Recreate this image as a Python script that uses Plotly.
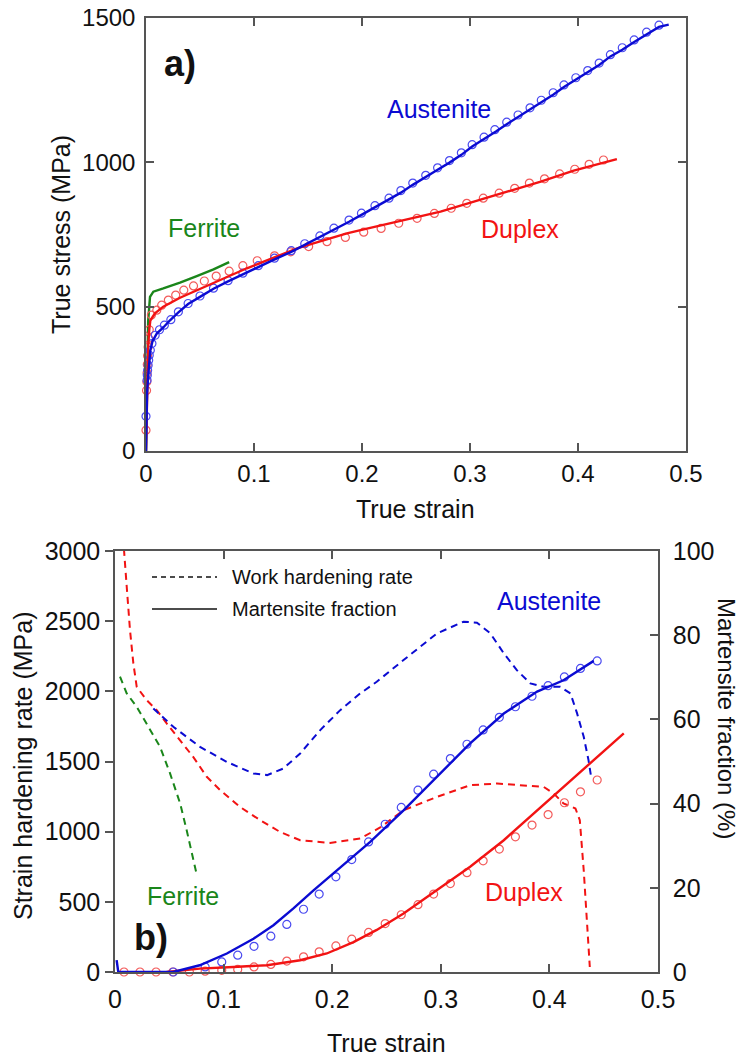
import plotly.graph_objects as go

W, H = 743, 1061
FONT = "Arial, Liberation Sans, Helvetica, sans-serif"
BLUE = "#0b0bd2"
RED = "#f21313"
GREEN = "#1a861a"
AXC = "#555555"

# ---------------- panel a) true stress - true strain ----------------
aus_line_x = [0, 0.0005, 0.001, 0.002, 0.003, 0.004, 0.006, 0.010, 0.016, 0.022, 0.030, 0.039, 0.050,
              0.0625, 0.075, 0.090, 0.104, 0.119, 0.1345, 0.147, 0.161, 0.174, 0.188, 0.1995, 0.212,
              0.225, 0.236, 0.247, 0.259, 0.270, 0.281, 0.292, 0.302, 0.313, 0.324, 0.334, 0.3445,
              0.3556, 0.366, 0.377, 0.387, 0.398, 0.409, 0.4196, 0.430, 0.441, 0.452, 0.4635, 0.475, 0.484]
aus_line_y = [0, 120, 200, 260, 300, 349, 380, 407, 428, 452, 480, 509, 534, 562, 586, 613, 638, 664,
              690, 714, 740, 766, 794, 818, 844, 870, 895, 922, 948, 974, 999, 1026, 1055, 1080, 1107,
              1132, 1157, 1182, 1209, 1234, 1261, 1286, 1311, 1337, 1367, 1390, 1417, 1444, 1469, 1477]
aus_mk_x = [0.0, 0.001, 0.0012, 0.0015, 0.002, 0.0025, 0.003, 0.004, 0.0055, 0.0085, 0.0125, 0.017,
            0.023, 0.030, 0.039, 0.050, 0.0625, 0.076, 0.0897, 0.104, 0.119, 0.1345, 0.147, 0.161,
            0.174, 0.188, 0.1995, 0.212, 0.225, 0.236, 0.247, 0.259, 0.270, 0.281, 0.292, 0.302,
            0.313, 0.323, 0.334, 0.3445, 0.3556, 0.366, 0.377, 0.387, 0.398, 0.409, 0.4196, 0.430,
            0.441, 0.452, 0.4635, 0.475]
aus_mk_y = [120, 245, 262, 280, 297, 314, 332, 349, 372, 401, 420, 436, 455, 482, 511, 537, 564, 590,
            616, 642, 668, 694, 718, 745, 772, 800, 824, 850, 876, 902, 928, 955, 981, 1006, 1033,
            1061, 1087, 1113, 1139, 1164, 1189, 1215, 1241, 1268, 1293, 1318, 1344, 1373, 1397,
            1424, 1451, 1475]

dup_line_x = [0, 0.0005, 0.001, 0.0015, 0.002, 0.003, 0.004, 0.0083, 0.016, 0.0315, 0.047, 0.0625,
              0.078, 0.0934, 0.109, 0.124, 0.140, 0.155, 0.171, 0.186, 0.2016, 0.2326, 0.2727,
              0.3036, 0.3346, 0.3655, 0.396, 0.427, 0.436]
dup_line_y = [0, 100, 200, 300, 360, 420, 452, 477, 500, 531, 557, 583, 610, 633, 656, 679, 702, 719,
              737, 754, 768, 794, 829, 864, 898, 933, 971, 1003, 1011]
dup_mk_x = [0, 0.0005, 0.0008, 0.001, 0.0012, 0.0015, 0.002, 0.0025, 0.003, 0.005, 0.010, 0.0145,
            0.0207, 0.0275, 0.035, 0.044, 0.054, 0.065, 0.077, 0.0897, 0.103, 0.119, 0.134, 0.1506,
            0.1676, 0.1846, 0.2016, 0.2177, 0.234, 0.251, 0.267, 0.2826, 0.297, 0.3123, 0.327,
            0.3414, 0.355, 0.369, 0.383, 0.397, 0.4103, 0.4236]
dup_mk_y = [72, 210, 240, 270, 300, 330, 360, 390, 420, 471, 488, 505, 523, 540, 557, 572, 589, 606,
            623, 642, 659, 676, 690, 708, 725, 740, 758, 771, 789, 806, 823, 841, 858, 876, 893, 910,
            928, 943, 960, 976, 993, 1008]

fer_line_x = [0, 0.0005, 0.001, 0.002, 0.0037, 0.0068, 0.016, 0.0315, 0.047, 0.0625, 0.077]
fer_line_y = [0, 150, 300, 450, 534, 552, 563, 583, 606, 629, 654]

# ---------------- panel b) hardening rate & martensite fraction ----------------
dup_whr_x = [0.0078, 0.0083, 0.0108, 0.0138, 0.0169, 0.020, 0.0292, 0.0384, 0.0476, 0.060, 0.072,
             0.0845, 0.0968, 0.115, 0.1336, 0.152, 0.1705, 0.198, 0.2258, 0.2442, 0.2657, 0.2965,
             0.327, 0.3518, 0.3733, 0.3948, 0.404, 0.413, 0.424, 0.428, 0.4316, 0.4347, 0.4372]
dup_whr_y = [3100, 3007, 2745, 2437, 2199, 2032, 1937, 1866, 1771, 1652, 1533, 1391, 1296, 1177,
             1082, 998, 939, 920, 951, 1030, 1153, 1248, 1331, 1343, 1331, 1319, 1272, 1201, 1165,
             1082, 725, 369, 36]
aus_whr_x = [0.0353, 0.0537, 0.0783, 0.103, 0.1275, 0.14, 0.155, 0.1705, 0.189, 0.2074, 0.2258,
             0.241, 0.2657, 0.2965, 0.321, 0.3333, 0.3456, 0.358, 0.370, 0.3825, 0.3947, 0.410,
             0.4194, 0.4255, 0.4316, 0.436, 0.4384]
aus_whr_y = [1878, 1747, 1604, 1497, 1415, 1403, 1450, 1557, 1724, 1866, 1985, 2068, 2223, 2413,
             2496, 2489, 2413, 2271, 2151, 2056, 2032, 2032, 1985, 1843, 1676, 1510, 1391]
fer_whr_x = [0.0046, 0.0108, 0.020, 0.0292, 0.0415, 0.0507, 0.060, 0.066, 0.0707, 0.0747]
fer_whr_y = [2104, 1985, 1890, 1771, 1604, 1415, 1201, 1010, 844, 713]

aus_mart_x = [0.0015, 0.003, 0.0537, 0.078, 0.103, 0.1275, 0.1459, 0.1643, 0.1828, 0.2012, 0.2196,
              0.235, 0.2657, 0.2965, 0.327, 0.358, 0.3887, 0.413, 0.4316, 0.4408]
aus_mart_y = [2.8, 0, 0, 1.6, 4.4, 7.9, 11.1, 15.1, 19.4, 23.5, 27.6, 30.9, 38.4, 46.4, 54.3, 61.4,
              66.6, 69.3, 72.5, 73.9]
aus_mart_mk_x = [0.0537, 0.083, 0.0983, 0.113, 0.128, 0.1435, 0.1582, 0.1736, 0.188, 0.2034, 0.218,
                 0.2335, 0.2488, 0.2636, 0.279, 0.2934, 0.3088, 0.3241, 0.339, 0.3539, 0.3687,
                 0.384, 0.3988, 0.4138, 0.4286, 0.444]
aus_mart_mk_y = [0, 1.2, 2.4, 4.0, 6.1, 8.5, 11.3, 14.9, 18.5, 22.6, 26.7, 30.9, 35.1, 39.1, 43.2,
                 47.0, 50.7, 54.1, 57.5, 60.5, 63.0, 65.5, 68.0, 70.1, 72.1, 73.9]

dup_mart_x = [0.0476, 0.078, 0.109, 0.14, 0.1705, 0.195, 0.2196, 0.241, 0.2657, 0.2965, 0.327,
              0.358, 0.3887, 0.4194, 0.4378, 0.450, 0.4685]
dup_mart_y = [0, 0.8, 1.2, 1.6, 2.8, 4.4, 7.1, 10.0, 13.9, 19.4, 25.0, 31.3, 38.4, 45.5, 49.7, 52.4,
              56.7]
dup_mart_mk_x = [0.0083, 0.023, 0.0378, 0.0532, 0.0685, 0.083, 0.0983, 0.113, 0.128, 0.1435, 0.1582,
                 0.1736, 0.188, 0.2034, 0.218, 0.2335, 0.2488, 0.2636, 0.279, 0.2934, 0.3088,
                 0.3241, 0.339, 0.3539, 0.3687, 0.384, 0.3988, 0.4138, 0.4286, 0.444]
dup_mart_mk_y = [0, 0, 0, 0, 0, 0.2, 0.4, 0.6, 1.2, 1.8, 2.6, 3.6, 4.8, 6.2, 7.8, 9.4, 11.5, 13.6,
                 16.0, 18.5, 21.0, 23.6, 26.4, 29.2, 32.1, 34.9, 37.4, 40.2, 42.8, 45.6]

x_ticks = [0, 0.1, 0.2, 0.3, 0.4, 0.5]
x_tick_text = ["0", "0.1", "0.2", "0.3", "0.4", "0.5"]
stress_ticks = [0, 500, 1000, 1500]
rate_ticks = [0, 500, 1000, 1500, 2000, 2500, 3000]
frac_ticks = [0, 20, 40, 60, 80, 100]

fig = go.Figure()


def line(x, y, color, xa, ya, dash="solid", width=2.4):
    fig.add_trace(go.Scatter(x=x, y=y, mode="lines", xaxis=xa, yaxis=ya, showlegend=False,
                             line=dict(color=color, width=width, dash=dash)))


def marks(x, y, color, xa, ya):
    fig.add_trace(go.Scatter(x=x, y=y, mode="markers", xaxis=xa, yaxis=ya, showlegend=False,
                             cliponaxis=False,
                             marker=dict(symbol="circle-open", size=8, color=color,
                                         line=dict(width=1.2, color=color))))


# panel a
line(fer_line_x, fer_line_y, GREEN, "x", "y")
marks(dup_mk_x, dup_mk_y, "#f35a5a", "x", "y")
marks(aus_mk_x, aus_mk_y, "#4a4af0", "x", "y")
line(dup_line_x, dup_line_y, RED, "x", "y")
line(aus_line_x, aus_line_y, BLUE, "x", "y")

# panel b
DASH = "7px,5px"
line(fer_whr_x, fer_whr_y, GREEN, "x2", "y2", DASH, 2)
line(dup_whr_x, dup_whr_y, RED, "x2", "y2", DASH, 2)
line(aus_whr_x, aus_whr_y, BLUE, "x2", "y2", DASH, 2)
marks(dup_mart_mk_x, dup_mart_mk_y, "#f35a5a", "x2", "y3")
marks(aus_mart_mk_x, aus_mart_mk_y, "#4a4af0", "x2", "y3")
line(dup_mart_x, dup_mart_y, RED, "x2", "y3")
line(aus_mart_x, aus_mart_y, BLUE, "x2", "y3")


def px2x(px):
    return px / W


def py2y(py):
    return 1 - py / H


top_x = [px2x(146), px2x(686)]
top_y = [py2y(451), py2y(18)]
bot_x = [px2x(115), px2x(658)]
bot_y = [py2y(972), py2y(551)]

tickfont_a = dict(family=FONT, size=24, color="#111")
tickfont_b = dict(family=FONT, size=25, color="#111")
common = dict(showline=True, linecolor=AXC, linewidth=1.5, showgrid=False, zeroline=False,
              ticklen=8, tickwidth=1.5, tickcolor=AXC, automargin=False)

fig.update_layout(
    width=W, height=H, margin=dict(l=0, r=0, t=0, b=0, autoexpand=False),
    paper_bgcolor="white", plot_bgcolor="white", showlegend=False,
    font=dict(family=FONT, color="#111"),
    xaxis=dict(domain=top_x, anchor="y", range=[0, 0.5], tickvals=x_ticks, ticktext=x_tick_text,
               ticks="inside", mirror="ticks", tickfont=tickfont_a, **common),
    yaxis=dict(domain=top_y, anchor="x", range=[0, 1500], tickvals=stress_ticks,
               ticks="inside", mirror="ticks", tickfont=tickfont_a, ticklabelstandoff=4, **common),
    xaxis2=dict(domain=bot_x, anchor="y2", range=[0, 0.5], tickvals=x_ticks, ticktext=x_tick_text,
                ticks="inside", mirror="ticks", tickfont=tickfont_b, ticklabelstandoff=4, **common),
    yaxis2=dict(domain=bot_y, anchor="x2", range=[0, 3000], tickvals=rate_ticks,
                ticks="outside", mirror=True, tickfont=tickfont_b, **common),
    yaxis3=dict(domain=bot_y, anchor="x2", overlaying="y2", side="right", range=[0, 100],
                tickvals=frac_ticks, ticks="inside", tickfont=tickfont_b, ticklabelstandoff=8,
                **common),
)


def label(text, cx, cy, size, color="#111", bold=False, angle=0, xanchor="center"):
    fig.add_annotation(text=f"<b>{text}</b>" if bold else text, x=px2x(cx), y=py2y(cy),
                       xref="paper", yref="paper", showarrow=False, textangle=angle,
                       xanchor=xanchor, yanchor="middle",
                       font=dict(family=FONT, size=size, color=color))


# panel a texts
label("a)", 180, 64, 36, bold=True)
label("Austenite", 439, 109, 25, BLUE)
label("Ferrite", 204, 228, 25, GREEN)
label("Duplex", 520, 229, 25, RED)
label("True stress (MPa)", 61, 235, 25, angle=-90)
label("True strain", 416, 509, 25)

# panel b texts
label("b)", 151, 937, 36, bold=True)
label("Austenite", 549, 601, 25, BLUE)
label("Ferrite", 183, 896, 25, GREEN)
label("Duplex", 524, 892, 25, RED)
label("Strain hardening rate (MPa)", 23, 766, 25, angle=-90)
label("Martensite fraction (%)", 727, 718, 24, angle=90)
label("True strain", 387, 1043, 25)
label("Work hardening rate", 230, 577, 20, xanchor="left")
label("Martensite fraction", 230, 609, 20, xanchor="left")

# legend line samples (decoration)
fig.add_shape(type="line", xref="paper", yref="paper", x0=px2x(152), x1=px2x(217),
              y0=py2y(577), y1=py2y(577), line=dict(color="#111", width=1.5, dash="5px,4px"))
fig.add_shape(type="line", xref="paper", yref="paper", x0=px2x(152), x1=px2x(217),
              y0=py2y(609), y1=py2y(609), line=dict(color="#111", width=1.5))

fig.write_html("out.html", config={"displayModeBar": False},
               post_script="document.body.style.margin='0';document.body.style.overflow='hidden';")
